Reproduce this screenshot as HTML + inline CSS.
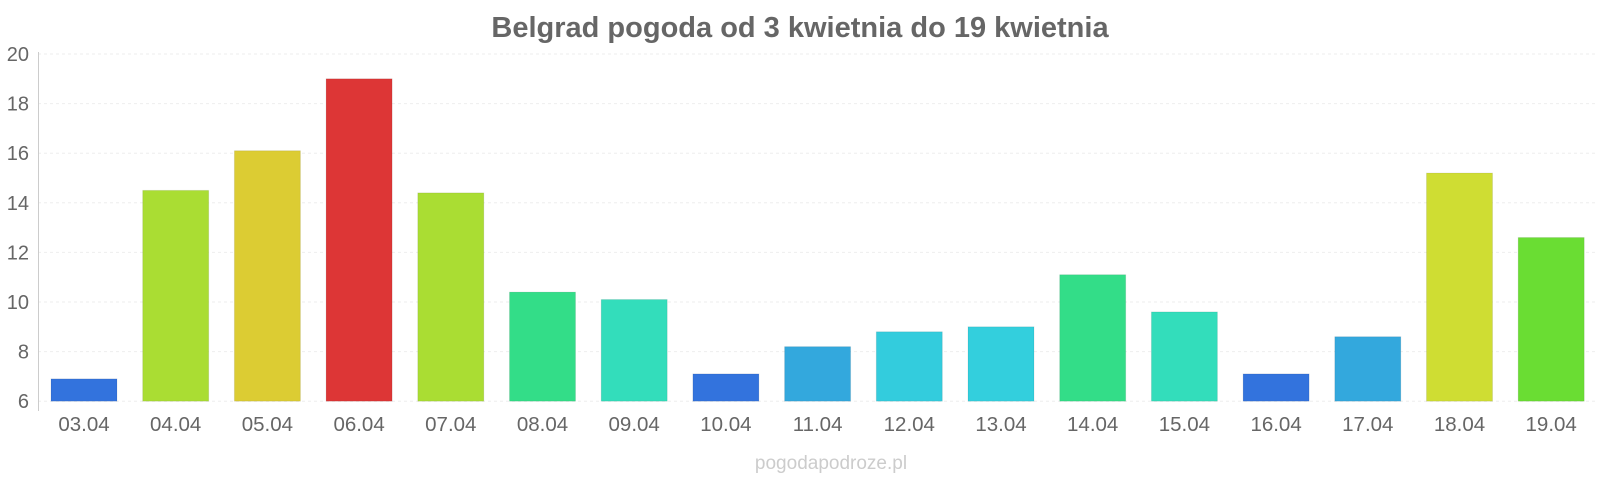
<!DOCTYPE html>
<html><head><meta charset="utf-8"><style>
html,body{margin:0;padding:0;background:#fff;}
svg{display:block;font-family:"Liberation Sans",sans-serif;}
</style></head><body>
<svg width="1600" height="480" xmlns="http://www.w3.org/2000/svg">
<text x="800" y="37" text-anchor="middle" font-size="29" font-weight="bold" fill="#666">Belgrad pogoda od 3 kwietnia do 19 kwietnia</text>
<g stroke="#eee" stroke-width="1" stroke-dasharray="3,3">
<line x1="38" x2="1598" y1="54" y2="54"/>
<line x1="38" x2="1598" y1="103.6" y2="103.6"/>
<line x1="38" x2="1598" y1="153.2" y2="153.2"/>
<line x1="38" x2="1598" y1="202.8" y2="202.8"/>
<line x1="38" x2="1598" y1="252.4" y2="252.4"/>
<line x1="38" x2="1598" y1="302" y2="302"/>
<line x1="38" x2="1598" y1="351.6" y2="351.6"/>
<line x1="38" x2="1598" y1="401.2" y2="401.2"/>
</g>
<line x1="38.5" x2="38.5" y1="52" y2="411" stroke="#ccc"/>
<g font-size="20" fill="#666" text-anchor="end">
<text x="29" y="61">20</text><text x="29" y="110.6">18</text><text x="29" y="160.2">16</text><text x="29" y="209.8">14</text><text x="29" y="259.4">12</text><text x="29" y="309">10</text><text x="29" y="358.6">8</text><text x="29" y="408.2">6</text>
</g>
<g id="bars"></g>
<g id="labels" font-size="20.5" fill="#666" text-anchor="middle"></g>
<text x="831" y="469" text-anchor="middle" font-size="19" fill="#ccc">pogodapodroze.pl</text>
<script>
var v=[6.9,14.5,16.1,19,14.4,10.4,10.1,7.1,8.2,8.8,9.0,11.1,9.6,7.1,8.6,15.2,12.6];
var c=["#3373dd","#aadd33","#dccc33","#dd3636","#aadd33","#33dd88","#33ddbb","#3373dd","#33a8dd","#33ccdd","#33cfdd","#33dd88","#33ddbb","#3373dd","#33a8dd","#cfdd33","#6add33"];
var b=document.getElementById("bars"),l=document.getElementById("labels"),ns="http://www.w3.org/2000/svg";
for(var i=0;i<17;i++){var x=51+i*91.7,y=401.2-(v[i]-6)*24.8;
var r=document.createElementNS(ns,"rect");r.setAttribute("x",x);r.setAttribute("y",y);r.setAttribute("width",66);r.setAttribute("height",401.2-y);r.setAttribute("fill",c[i]);r.setAttribute("stroke","rgba(0,0,0,0.08)");b.appendChild(r);
var t=document.createElementNS(ns,"text");t.setAttribute("x",x+33);t.setAttribute("y",431);t.textContent=(i+3<10?"0":"")+(i+3)+".04";l.appendChild(t);}
</script>
</svg>
</body></html>
